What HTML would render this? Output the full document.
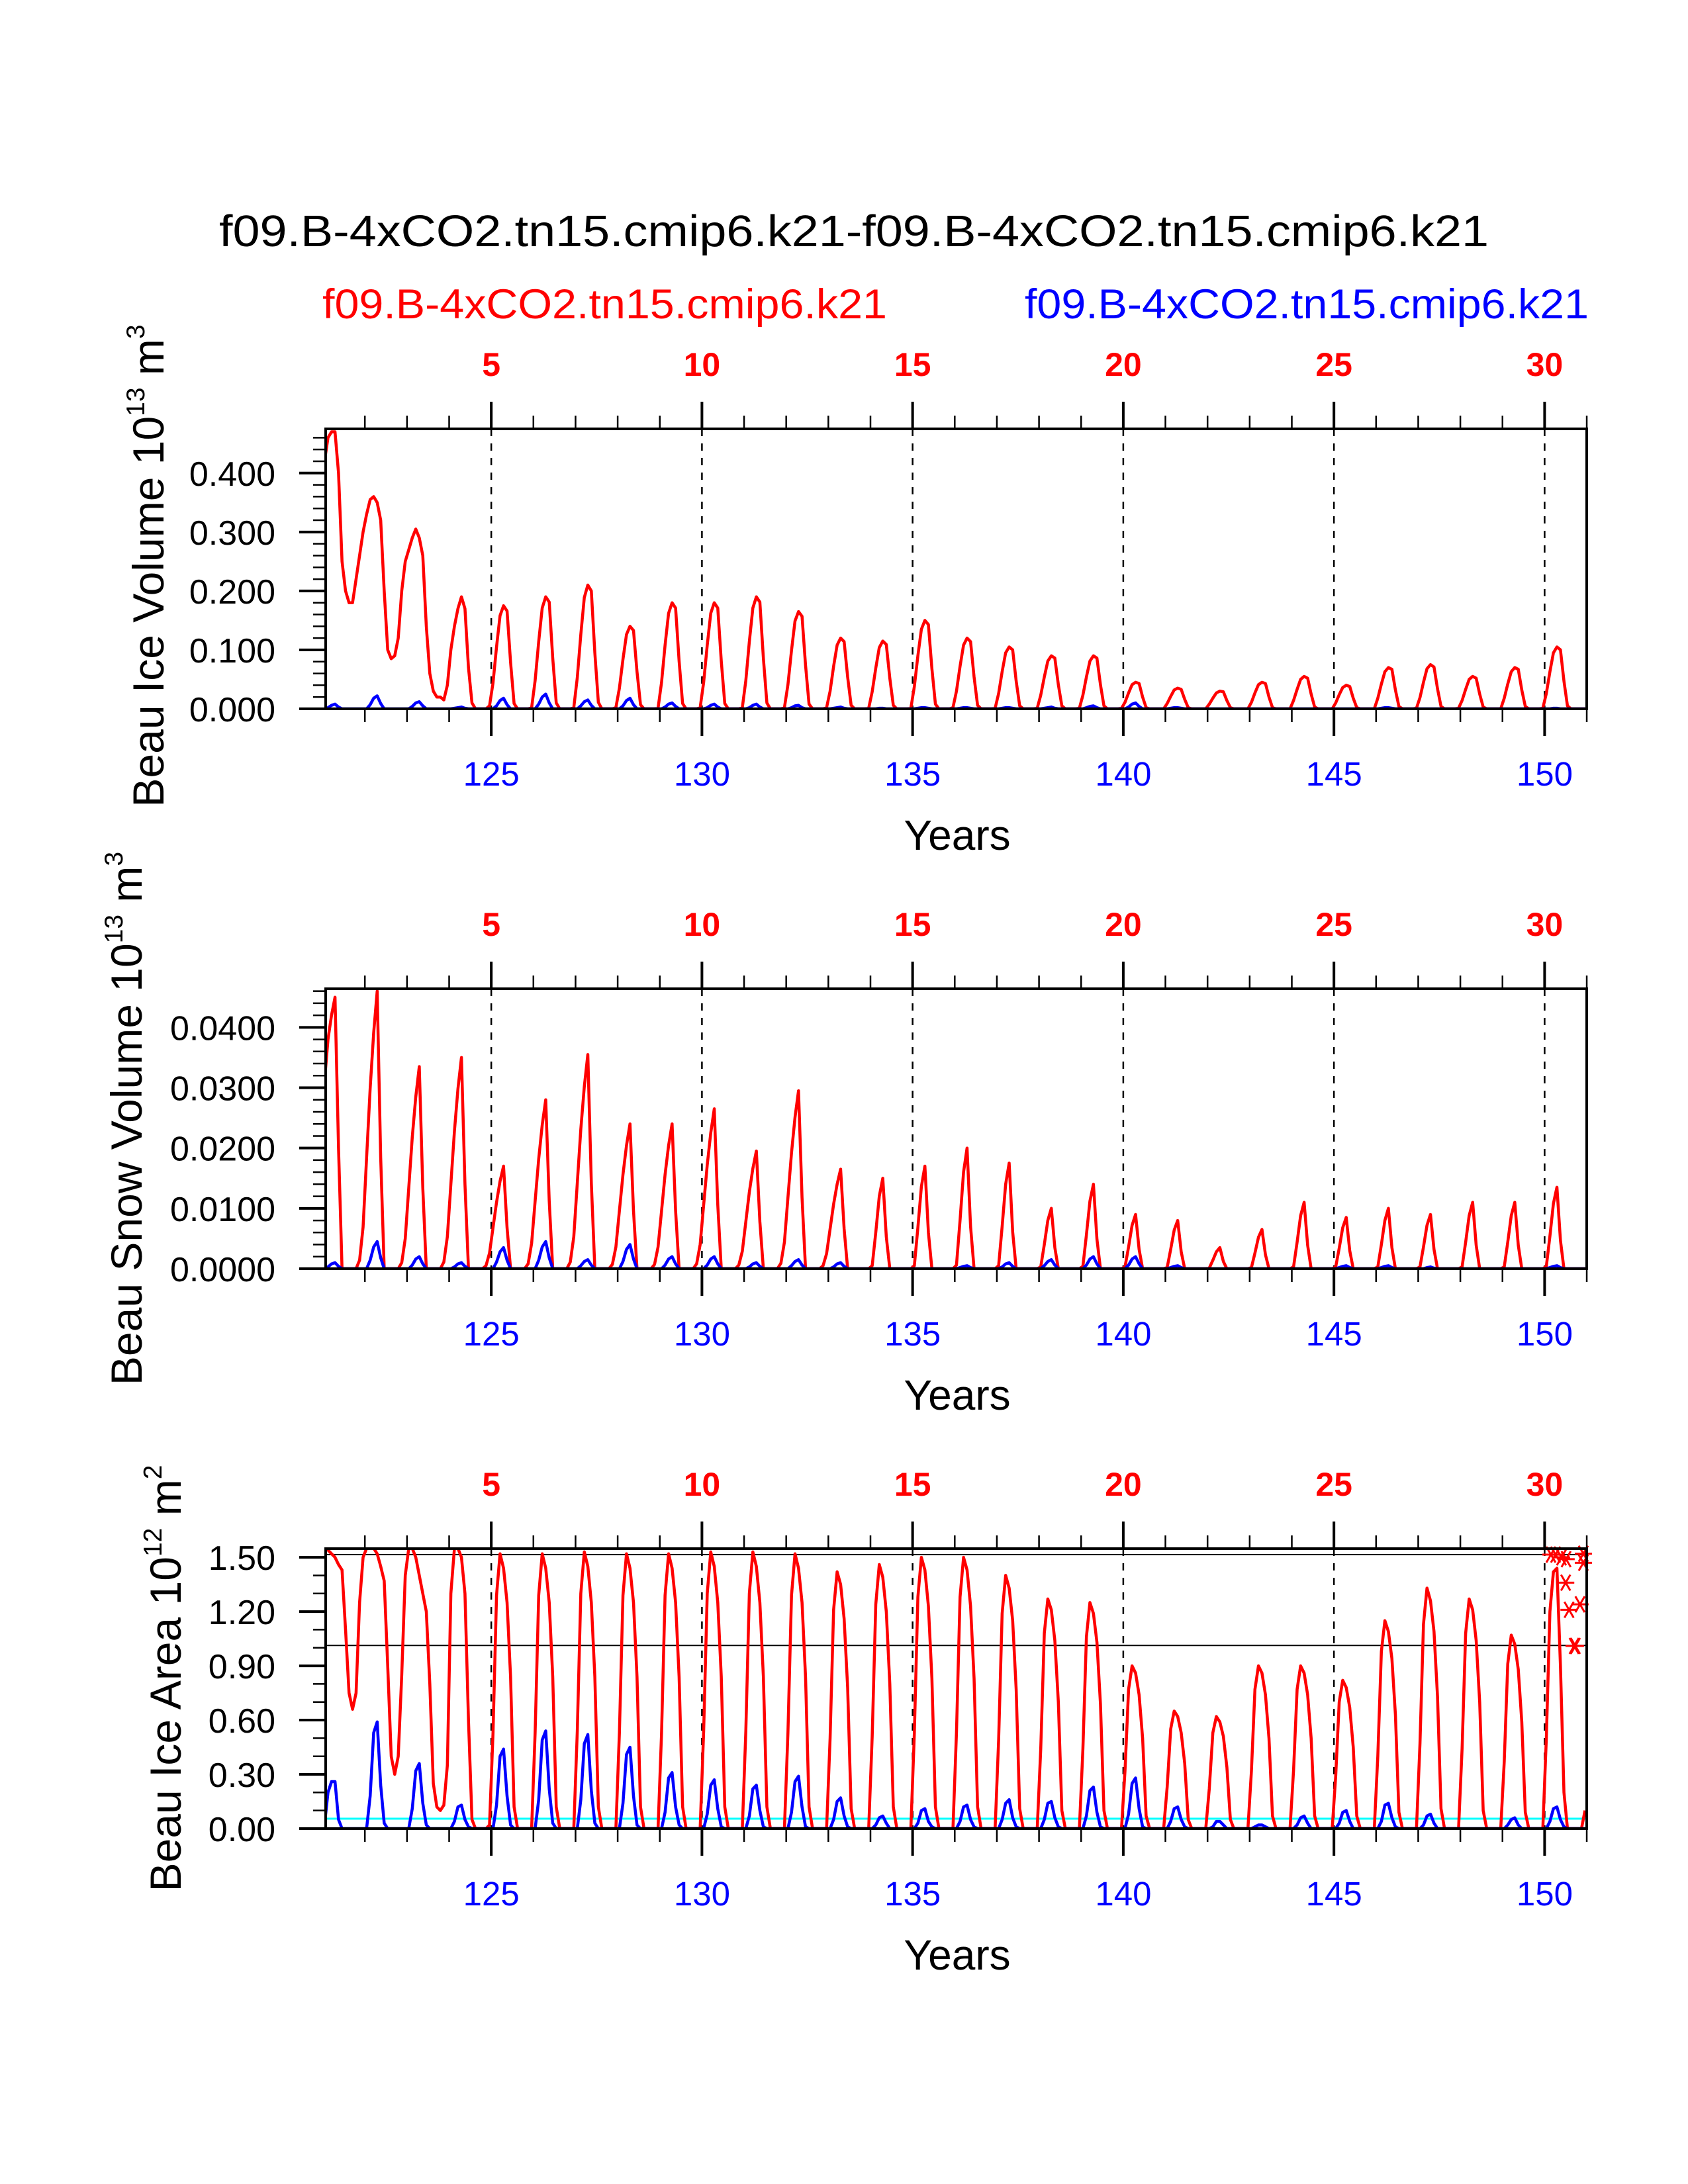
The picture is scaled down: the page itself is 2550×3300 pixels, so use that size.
<!DOCTYPE html>
<html><head><meta charset="utf-8"><style>
html,body{margin:0;padding:0;background:#fff;}
svg{display:block;font-family:"Liberation Sans",Arial,sans-serif;}
</style></head><body>
<svg id="chart" width="2550" height="3300" viewBox="0 0 2550 3300" xmlns="http://www.w3.org/2000/svg">
<rect width="2550" height="3300" fill="#fff"/>
<text x="1290" y="372" font-size="67" text-anchor="middle" textLength="1918" lengthAdjust="spacingAndGlyphs">f09.B-4xCO2.tn15.cmip6.k21-f09.B-4xCO2.tn15.cmip6.k21</text>
<text x="487" y="481" font-size="63" fill="#ff0000" textLength="853" lengthAdjust="spacingAndGlyphs">f09.B-4xCO2.tn15.cmip6.k21</text>
<text x="1548" y="481" font-size="63" fill="#0000ff" textLength="852" lengthAdjust="spacingAndGlyphs">f09.B-4xCO2.tn15.cmip6.k21</text>
<g id="plots"></g>
</svg>
<script>
// ---- data (monthly values, one row of 12 months per model year; short rows = trailing zeros) ----
const iceVolRed = [
[.42,.46,.47,.47,.40,.25,.20,.18,.18,.22,.26,.30],
[.33,.355,.36,.35,.32,.20,.10,.085,.09,.12,.20,.25],
[.27,.29,.305,.29,.26,.14,.06,.03,.02,.02,.015,.04],
[.10,.14,.17,.19,.17,.07,.01,0,0,0,0,.005],
[.044,.105,.158,.175,.166,.079,.009,0,0,0,0,.002],
[.048,.114,.171,.19,.181,.086,.01,0,0,0,0,.002],
[.053,.126,.189,.21,.2,.095,.011,0,0,0,0,.002],
[.035,.084,.126,.14,.133,.063,.007,0,0,0,0,.001],
[.045,.108,.162,.18,.171,.081,.009,0,0,0,0,.002],
[.045,.108,.162,.18,.171,.081,.009,0,0,0,0,.002],
[.048,.114,.171,.19,.181,.086,.01,0,0,0,0,.002],
[.041,.099,.149,.165,.157,.074,.008,0,0,0,0,.002],
[.03,.072,.108,.12,.114,.054,.006,0,0,0,0,.001],
[.029,.069,.104,.115,.109,.052,.006,0,0,0,0,.001],
[.038,.09,.135,.15,.143,.068,.008,0,0,0,0,.002],
[.03,.072,.108,.12,.114,.054,.006,0,0,0,0,.001],
[.026,.063,.095,.105,.1,.047,.005,0,0,0,0,.001],
[.023,.054,.081,.09,.086,.041,.005,0,0,0,0,.001],
[.023,.054,.081,.09,.086,.041,.005,0,0,0,0,.001],
[.011,.027,.041,.045,.043,.02,.002],
[.009,.021,.032,.035,.033,.016,.002],
[.008,.018,.027,.03,.029,.014,.002],
[.011,.027,.041,.045,.043,.02,.002],
[.014,.033,.05,.055,.052,.025,.003],
[.01,.024,.036,.04,.038,.018,.002],
[.018,.042,.063,.07,.067,.032,.004,0,0,0,0,.001],
[.019,.045,.068,.075,.071,.034,.004,0,0,0,0,.001],
[.014,.033,.05,.055,.052,.025,.003],
[.018,.042,.063,.07,.067,.032,.004,0,0,0,0,.001],
[.026,.063,.095,.105,.1,.047,.005]
];
const iceVolBlue = [
[0,.002,.006,.008,.003],[0,.007,.018,.022,.009],[0,.004,.01,.012,.005],[0,.001,.002,.003,.001],
[0,.005,.014,.018,.007],[0,.008,.02,.025,.01],[0,.005,.012,.015,.006],[0,.005,.014,.018,.007],
[0,.003,.008,.01,.004],[0,.002,.006,.008,.003],[0,.002,.006,.008,.003],[0,.002,.005,.006,.002],
[0,.001,.002,.003,.001],[0,0,.001,.001,0],[0,.001,.002,.002,.001],[0,.001,.002,.002,.001],
[0,.001,.002,.002,.001],[0,.001,.002,.003,.001],[0,.002,.004,.005,.002],[0,.003,.008,.01,.004],
[0,.001,.002,.002,.001],[],[],[],[],[0,.001,.002,.002,.001],[],[],[],[0,0,.001,.001,0]
];
const snowRed = [
[.031,.038,.042,.045,.02,0,0,0,0,0,.0014,.0069],
[.0184,.0299,.0391,.046,.0184,0,0,0,0,0,.001,.005],
[.0134,.0218,.0285,.0335,.0134,0,0,0,0,0,.0011,.0053],
[.014,.0228,.0298,.035,.014,0,0,0,0,0,.0005,.0026],
[.0068,.011,.0145,.017,.0068,0,0,0,0,0,.0008,.0042],
[.0112,.0182,.0238,.028,.0112,0,0,0,0,0,.0011,.0053],
[.0142,.0231,.0302,.0355,.0142,0,0,0,0,0,.0007,.0036],
[.0096,.0156,.0204,.024,.0096,0,0,0,0,0,.0007,.0036],
[.0096,.0156,.0204,.024,.0096,0,0,0,0,0,.0008,.004],
[.0106,.0172,.0225,.0265,.0106,0,0,0,0,0,.0006,.0029],
[.0078,.0127,.0166,.0195,.0078,0,0,0,0,0,.0009,.0044],
[.0118,.0192,.0251,.0295,.0118,0,0,0,0,0,.0005,.0025],
[.0066,.0107,.014,.0165,.0066],
[.0005,.006,.012,.015,.0053],
[.0005,.0068,.0136,.017,.006],
[.0006,.008,.016,.02,.007],
[.0005,.007,.014,.0175,.0061],
[.0003,.004,.008,.01,.0035],
[.0004,.0056,.0112,.014,.0049],
[.0003,.0036,.0072,.009,.0032],
[.0002,.0032,.0064,.008,.0028],
[.0001,.0014,.0028,.0035,.0012],
[.0002,.0026,.0052,.0065,.0023],
[.0003,.0044,.0088,.011,.0039],
[.0003,.0034,.0068,.0085,.003],
[.0003,.004,.008,.01,.0035],
[.0003,.0036,.0072,.009,.0032],
[.0003,.0044,.0088,.011,.0039],
[.0003,.0044,.0088,.011,.0039],
[.0004,.0054,.0108,.0135,.0047]
];
const snowBlue = [
[0,.0003,.0008,.001,.0004],[0,.0014,.0036,.0045,.0018],[0,.0006,.0016,.002,.0008],[0,.0003,.0008,.001,.0004],
[0,.0011,.0028,.0035,.0014],[0,.0014,.0036,.0045,.0018],[0,.0005,.0012,.0015,.0006],[0,.0012,.0032,.004,.0016],
[0,.0006,.0016,.002,.0008],[0,.0006,.0016,.002,.0008],[0,.0003,.0008,.001,.0004],[0,.0005,.0012,.0015,.0006],
[0,.0003,.0008,.001,.0004],[],[],[0,.0002,.0004,.0005,.0002],
[0,.0003,.0008,.001,.0004],[0,.0005,.0012,.0015,.0006],[0,.0006,.0016,.002,.0008],[0,.0006,.0016,.002,.0008],
[0,.0002,.0004,.0005,.0002],[],[],[],[0,.0002,.0004,.0005,.0002],[0,.0002,.0004,.0005,.0002],
[0,0,.0002,.0003,.0001],[],[],[0,.0002,.0004,.0005,.0002]
];
const areaRed = [
[1.55,1.54,1.52,1.5,1.46,1.43,1.1,.75,.66,.75,1.25,1.5],
[1.55,1.55,1.55,1.52,1.45,1.37,.9,.4,.3,.4,.85,1.4],
[1.55,1.55,1.5,1.4,1.3,1.2,.8,.25,.12,.1,.13,.35],
[1.3,1.55,1.55,1.5,1.3,.6,.05,0,0,0,0,.02],
[.53,1.29,1.52,1.44,1.25,.84,.12],
[.53,1.29,1.52,1.44,1.25,.84,.12],
[.54,1.3,1.53,1.45,1.25,.84,.12],
[.53,1.29,1.52,1.44,1.25,.84,.12],
[.53,1.29,1.52,1.44,1.25,.84,.12],
[.54,1.3,1.53,1.45,1.25,.84,.12],
[.54,1.3,1.53,1.45,1.25,.84,.12],
[.53,1.29,1.52,1.44,1.25,.84,.12],
[.5,1.21,1.42,1.35,1.16,.78,.11],
[.51,1.24,1.46,1.39,1.2,.8,.12],
[.53,1.28,1.5,1.43,1.23,.83,.12],
[.53,1.28,1.5,1.43,1.23,.83,.12],
[.49,1.19,1.4,1.33,1.15,.77,.11],
[.44,1.08,1.27,1.21,1.04,.7,.1],
[.44,1.06,1.25,1.19,1.03,.69,.1],
[.32,.77,.9,.86,.74,.5,.07],
[.23,.55,.65,.62,.53,.36,.05],
[.22,.53,.62,.59,.51,.34,.05],
[.32,.77,.9,.86,.74,.5,.07],
[.32,.77,.9,.86,.74,.5,.07],
[.29,.7,.82,.78,.67,.45,.07],
[.4,.98,1.15,1.09,.94,.63,.09],
[.47,1.13,1.33,1.26,1.09,.73,.11],
[.44,1.08,1.27,1.21,1.04,.7,.1],
[.37,.91,1.07,1.02,.88,.59,.09],
[.5,1.2,1.42,1.44,.9,.2,0,0,0,0,0,.1]
];
const areaBlue = [
[.02,.2,.26,.26,.05],[0,.18,.53,.59,.24,.03],[0,.11,.32,.36,.14,.02],[0,.04,.12,.13,.05,.01],
[0,.13,.4,.44,.18,.02],[0,.16,.49,.54,.22,.03],[0,.16,.47,.52,.21,.03],[0,.14,.41,.45,.18,.02],
[0,.09,.28,.31,.12,.02],[0,.08,.24,.27,.11,.01],[0,.07,.22,.24,.1,.01],[0,.09,.26,.29,.12,.01],
[0,.05,.15,.17,.07,.01],[0,.02,.06,.07,.03],[0,.03,.1,.11,.04,.01],[0,.04,.12,.13,.05,.01],
[0,.05,.14,.16,.06,.01],[0,.05,.14,.15,.06,.01],[0,.07,.21,.23,.09,.01],[0,.08,.25,.28,.11,.01],
[0,.04,.11,.12,.05,.01],[0,.01,.04,.04,.02],[0,.01,.02,.02,.01],[0,.02,.06,.07,.03],
[0,.03,.09,.1,.04],[0,.04,.13,.14,.06,.01],[0,.02,.07,.08,.03],[],[0,.02,.05,.06,.02],[0,.04,.11,.12,.05,.01]
];
const starYears = [30.15,30.26,30.4,30.51,30.92,30.92,30.5,30.58,30.84,30.7,30.73];
const starValues = [1.515,1.515,1.50,1.49,1.52,1.47,1.36,1.21,1.24,1.01,1.01];
const refLines = [1.515,1.013];
const cyanLevel = [0.055];
const topTickLabels = ["5","10","15","20","25","30"];
const bottomTickLabels = ["125","130","135","140","145","150"];
const labelYears = [5,10,15,20,25,30];
const vol1Ticks = [0,0.1,0.2,0.3,0.4], vol1Labels = ["0.000","0.100","0.200","0.300","0.400"];
const snowTicks = [0,0.01,0.02,0.03,0.04], snowLabels = ["0.0000","0.0100","0.0200","0.0300","0.0400"];
const areaTicks = [0,0.3,0.6,0.9,1.2,1.5], areaLabels = ["0.00","0.30","0.60","0.90","1.20","1.50"];

// ---- layout ----
const NS = "http://www.w3.org/2000/svg";
const L = 492, R = 2397, H = 423;
const X0 = 1.07, XS = 63.65;
function xPx(t){ return L + (t - X0) * XS; }
const root = document.getElementById('plots');
function el(tag, attrs, parent){
  const e = document.createElementNS(NS, tag);
  for (const k in attrs) e.setAttribute(k, attrs[k]);
  (parent || root).appendChild(e);
  return e;
}
const panels = [
  {key:'ice-volume', top:648, ymax:0.475, ticks:vol1Ticks, labels:vol1Labels, minor:0.02, red:iceVolRed, blue:iceVolBlue,
   title:['Beau Ice Volume 10','13',' m','3'], tx:223, ty:855},
  {key:'snow-volume', top:1494, ymax:0.0464, ticks:snowTicks, labels:snowLabels, minor:0.002, red:snowRed, blue:snowBlue,
   title:['Beau Snow Volume 10','13',' m','3'], tx:190, ty:1690},
  {key:'ice-area', top:2340, ymax:1.548, ticks:areaTicks, labels:areaLabels, minor:0.1, red:areaRed, blue:areaBlue,
   title:['Beau Ice Area 10','12',' m','2'], tx:249, ty:2536}
];

panels.forEach((p, pi) => {
  const B = p.top + H;
  const yPx = v => B - v / p.ymax * H;
  const g = el('g', {});
  
  
  const cp = el('clipPath', {id:'clip'+pi}, g);
  el('rect', {x:L, y:p.top, width:R-L, height:H}, cp);
  const plot = el('g', {'clip-path':'url(#clip'+pi+')'}, g);

  labelYears.forEach(yr => {
    const d = el('line', {x1:xPx(yr), x2:xPx(yr), y1:p.top, y2:B, stroke:'#000', 'stroke-width':2.5, 'stroke-dasharray':'11 11'}, plot);
    
    
  });
  if (pi === 2) {
    refLines.forEach(v => {
      const r = el('line', {x1:L, x2:R, y1:yPx(v), y2:yPx(v), stroke:'#000', 'stroke-width':2}, plot);
      
      
    });
    cyanLevel.forEach(v => {
      const c = el('line', {x1:L, x2:R, y1:yPx(v), y2:yPx(v), stroke:'#00ffff', 'stroke-width':3}, plot);
      
      
    });
  }
  function series(rows, color, name){
    const pts = [];
    rows.forEach((row, yi) => {
      for (let m = 0; m < 12; m++) {
        const v = row[m] || 0;
        const t = 1 + yi + (m + 0.5) / 12;
        pts.push(xPx(t).toFixed(1) + ',' + yPx(v).toFixed(1));
      }
    });
    const pl = el('polyline', {points:pts.join(' '), fill:'none', stroke:color, 'stroke-width':4.5, 'stroke-linejoin':'round'}, plot);
    
    
  }
  series(p.red, '#ff0000', p.key + '-red-series');
  series(p.blue, '#0000ff', p.key + '-blue-series');

  if (pi === 2) {
    starYears.forEach((t, i) => {
      const cx = xPx(t), cy = yPx(starValues[i]);
      const s = el('g', {stroke:'#ff0000', 'stroke-width':3}, g);
      
      
      el('line', {x1:cx-13, x2:cx+13, y1:cy, y2:cy}, s);
      el('line', {x1:cx-7, x2:cx+7, y1:cy-12, y2:cy+12}, s);
      el('line', {x1:cx-7, x2:cx+7, y1:cy+12, y2:cy-12}, s);
    });
  }

  const fr = el('rect', {x:L, y:p.top, width:R-L, height:H, fill:'none', stroke:'#000', 'stroke-width':4}, g);
  
  

  for (let yr = 2; yr <= 31; yr++) {
    const x = xPx(yr);
    if (x > R + 1) continue;
    const major = yr % 5 === 0;
    const len = major ? 41 : 20, w = major ? 4 : 2.5;
    el('line', {x1:x, x2:x, y1:p.top - len, y2:p.top, stroke:'#000', 'stroke-width':w}, g);
    el('line', {x1:x, x2:x, y1:B, y2:B + len, stroke:'#000', 'stroke-width':w}, g);
  }
  labelYears.forEach((yr, i) => {
    const tl = el('text', {x:xPx(yr), y:p.top - 80, 'font-size':50, 'font-weight':'bold', fill:'#ff0000', 'text-anchor':'middle'}, g);
    tl.textContent = topTickLabels[i];
    
    
    const bl = el('text', {x:xPx(yr), y:B + 116, 'font-size':51, fill:'#0000ff', 'text-anchor':'middle'}, g);
    bl.textContent = bottomTickLabels[i];
    
    
  });
  const xt = el('text', {x:1446, y:B + 213, 'font-size':64, 'text-anchor':'middle'}, g);
  xt.textContent = 'Years';
  
  

  for (let v = 0; v <= p.ymax + 1e-9; v += p.minor) {
    el('line', {x1:L - 19, x2:L, y1:yPx(v), y2:yPx(v), stroke:'#000', 'stroke-width':2.5}, g);
  }
  p.ticks.forEach((v, i) => {
    el('line', {x1:L - 40, x2:L, y1:yPx(v), y2:yPx(v), stroke:'#000', 'stroke-width':4}, g);
    const yl = el('text', {x:416, y:yPx(v) + 19, 'font-size':52, 'text-anchor':'end'}, g);
    yl.textContent = p.labels[i];
    
    
  });

  const yt = el('text', {x:0, y:0, 'font-size':66, 'text-anchor':'middle', transform:'translate(' + (p.tx + 24) + ',' + p.ty + ') rotate(-90)'}, g);
  
  
  const parts = p.title;
  const t1 = el('tspan', {}, yt); t1.textContent = parts[0];
  const t2 = el('tspan', {'font-size':39, dy:-29}, yt); t2.textContent = parts[1];
  const t3 = el('tspan', {dy:29}, yt); t3.textContent = parts[2];
  const t4 = el('tspan', {'font-size':39, dy:-29}, yt); t4.textContent = parts[3];
});
</script>
</body></html>
